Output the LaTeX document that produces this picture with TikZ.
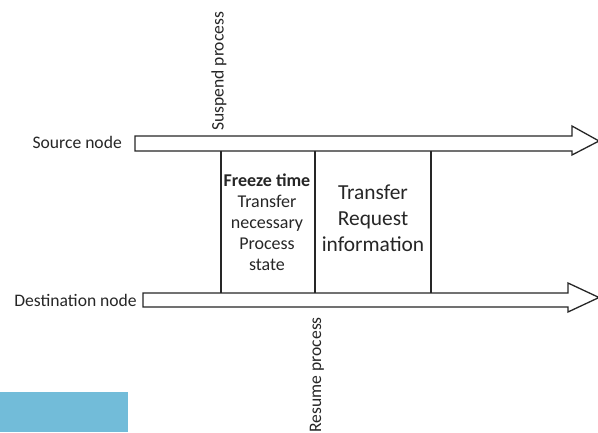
\documentclass[tikz,border=0pt]{standalone}
\usepackage{fontspec}
\setmainfont{Carlito}
\begin{document}
\begin{tikzpicture}[x=1pt,y=-1pt,
  bigarrow/.style={draw=black!85,line width=1.3pt,fill=white,line join=miter},
  divider/.style={draw=black!85,line width=1.2pt},
  lbl/.style={font=\fontsize{17.6}{20}\selectfont,inner sep=0pt,text=black!85},
  cell/.style={font=\fontsize{18}{21}\selectfont,align=center,inner sep=0pt,text=black!85},
  bigcell/.style={font=\fontsize{21.4}{26}\selectfont,align=center,inner sep=0pt,text=black!85}]
\useasboundingbox (0,0) rectangle (598,432);
% source arrow
\draw[bigarrow] (135,136) -- (572,136) -- (572,126) -- (599,141) -- (572,155) -- (572,151) -- (135,151) -- cycle;
% destination arrow
\draw[bigarrow] (143,293) -- (568,293) -- (568,283) -- (599,297.5) -- (568,312) -- (568,307) -- (143,307) -- cycle;
% dividers
\coordinate (a1) at (221,151); \coordinate (a2) at (221,293);
\coordinate (b1) at (315,151); \coordinate (b2) at (315,293);
\coordinate (c1) at (431,151); \coordinate (c2) at (431,293);
\draw[divider] (a1) -- (a2);
\draw[divider] (b1) -- (b2);
\draw[divider] (c1) -- (c2);
% labels
\node[lbl,anchor=east] (src) at (122,142) {Source node};
\node[lbl,anchor=east] (dst) at (137,300) {Destination node};
\node[lbl,rotate=90,anchor=west] (sus) at (219,131) {Suspend process};
\node[lbl,rotate=90,anchor=east] (res) at (317,317) {Resume process};
\node[cell] (freeze) at (267,222) {\textbf{Freeze time}\\Transfer\\necessary\\Process\\state};
\node[bigcell] (req) at (373,218) {Transfer\\Request\\information};
% blue patch
\fill[fill={rgb,255:red,114;green,188;blue,217}] (0,392) rectangle (128,432);
\end{tikzpicture}
\end{document}
